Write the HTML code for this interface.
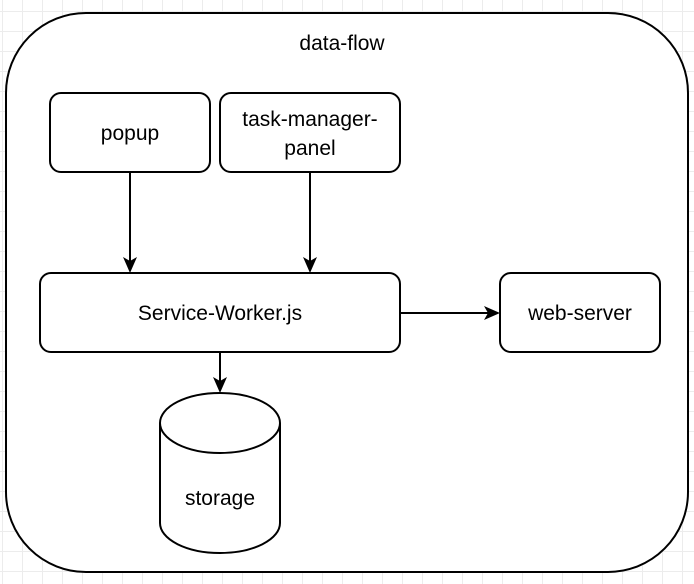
<!DOCTYPE html>
<html><head><style>
html,body{margin:0;padding:0;background:#fff;}
body{width:694px;height:584px;overflow:hidden;
background-image:linear-gradient(#ececec 1px,transparent 1px),linear-gradient(90deg,#ececec 1px,transparent 1px);
background-size:20px 20px;background-position:2px 11px;}
</style></head><body>
<svg width="694" height="584" xmlns="http://www.w3.org/2000/svg" style="position:absolute;left:0;top:0" font-family="Liberation Sans, Helvetica, Arial, sans-serif" font-size="21">
<rect x="6" y="13" width="682" height="559" rx="80" fill="#fff" stroke="#000" stroke-width="2"/>
<text x="342" y="50" text-anchor="middle">data-flow</text>
<rect x="50" y="93" width="160" height="79" rx="11" fill="#fff" stroke="#000" stroke-width="2"/>
<text x="130" y="140" text-anchor="middle">popup</text>
<rect x="220" y="93" width="180" height="79" rx="11" fill="#fff" stroke="#000" stroke-width="2"/>
<text x="310" y="126" text-anchor="middle">task-manager-</text>
<text x="310" y="155" text-anchor="middle">panel</text>
<rect x="40" y="273" width="360" height="79" rx="11" fill="#fff" stroke="#000" stroke-width="2"/>
<text x="220" y="320" text-anchor="middle">Service-Worker.js</text>
<rect x="500" y="273" width="160" height="79" rx="11" fill="#fff" stroke="#000" stroke-width="2"/>
<text x="580" y="320" text-anchor="middle">web-server</text>
<path d="M160,423 A60,30 0 0 1 280,423 L280,523 A60,30 0 0 1 160,523 Z" fill="#fff" stroke="#000" stroke-width="2"/>
<path d="M160,423 A60,30 0 0 0 280,423" fill="none" stroke="#000" stroke-width="2"/>
<text x="220" y="505" text-anchor="middle">storage</text>
<g stroke="#000" stroke-width="2" fill="none">
<line x1="130" y1="172" x2="130" y2="262"/>
<line x1="310" y1="172" x2="310" y2="262"/>
<line x1="400" y1="313" x2="488" y2="313"/>
<line x1="220" y1="352" x2="220" y2="382"/>
</g>
<g fill="#000">
<path d="M130,273 L123,257 L130,261 L137,257 Z"/>
<path d="M310,273 L303,257 L310,261 L317,257 Z"/>
<path d="M500,313 L484,306 L488,313 L484,320 Z"/>
<path d="M220,393 L213,377 L220,381 L227,377 Z"/>
</g>
</svg>
</body></html>
